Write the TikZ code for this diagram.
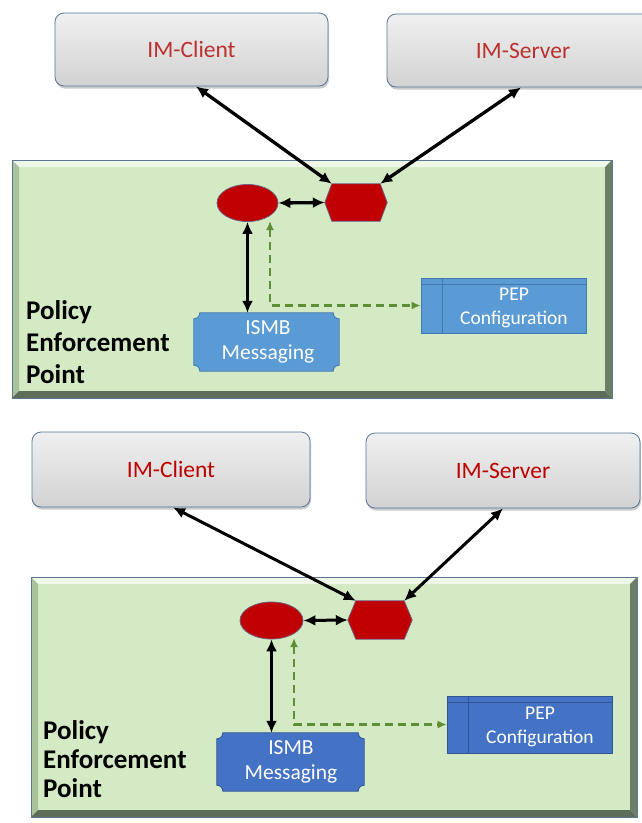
\documentclass[tikz,border=0pt]{standalone}
\usepackage{fontspec}
\setmainfont{Carlito}
\usetikzlibrary{arrows.meta,shadows,calc,shapes.geometric}
\definecolor{imred1}{HTML}{BC3030}
\definecolor{imred2}{HTML}{C00000}
\definecolor{imborder}{HTML}{56769A}
\definecolor{imtop}{HTML}{F0F0F0}
\definecolor{imbot}{HTML}{D2D2D2}
\definecolor{pnlin}{HTML}{D3EAC4}
\definecolor{bevtop}{HTML}{EEF7E8}
\definecolor{bevleft}{HTML}{A9C299}
\definecolor{bevright}{HTML}{6D7E66}
\definecolor{bevbot}{HTML}{5D6D57}
\definecolor{pnlline}{HTML}{5A7890}
\definecolor{pepred}{HTML}{C00000}
\definecolor{redline}{HTML}{6F5F80}
\definecolor{blueA}{HTML}{5B9BD5}
\definecolor{blueAd}{HTML}{4479B0}
\definecolor{blueB}{HTML}{4472C4}
\definecolor{blueBd}{HTML}{2F5597}
\definecolor{dashgreen}{HTML}{5E8E36}
\newcommand{\bevpanel}[4]{%
  \fill[pnlin] (#1,#2) rectangle (#3,#4);
  \fill[bevtop] (#1,#2) -- (#3,#2) -- (#3-7,#2+7) -- (#1+7,#2+7) -- cycle;
  \fill[bevleft] (#1,#2) -- (#1+7,#2+7) -- (#1+7,#4-7) -- (#1,#4) -- cycle;
  \fill[bevright] (#3,#2) -- (#3,#4) -- (#3-7,#4-7) -- (#3-7,#2+7) -- cycle;
  \fill[bevbot] (#1,#4) -- (#3,#4) -- (#3-7,#4-7) -- (#1+7,#4-7) -- cycle;
  \draw[pnlline, line width=0.7pt] (#1,#2) rectangle (#3,#4);
}
\begin{document}
\begin{tikzpicture}[x=1pt,y=-1pt,
  imbox/.style={rectangle, rounded corners=9pt, draw=imborder, line width=0.8pt,
    top color=imtop, bottom color=imbot, minimum width=273pt, minimum height=73pt,
    inner sep=0pt, font=\fontsize{23.5}{27}\selectfont,
    drop shadow={shadow xshift=1pt, shadow yshift=-2.5pt, fill=black!40}},
  redell/.style={ellipse, minimum width=61pt, minimum height=37pt, inner sep=0pt,
    fill=pepred, draw=redline, line width=0.8pt},
  hexnode/.style={rectangle, minimum width=62pt, minimum height=37pt, inner sep=0pt},
  hexsty/.style={fill=pepred, draw=redline, line width=0.8pt},
  plqnode/.style={rectangle, inner sep=0pt},
  plqtext/.style={text=white, align=center, font=\fontsize{21.5}{25}\selectfont, inner sep=0pt},
  peptext/.style={text=white, align=center, font=\fontsize{19.5}{24}\selectfont, inner sep=0pt},
  pepbox/.style 2 args={rectangle, minimum width=165pt, minimum height=55pt, inner sep=0pt,
    fill=#1, draw=#2, line width=0.8pt,
    path picture={
      \draw[#2, line width=0.8pt] ([xshift=21pt]path picture bounding box.north west) -- ([xshift=21pt]path picture bounding box.south west);
      \draw[#2, line width=0.8pt] ([yshift=-6pt]path picture bounding box.north west) -- ([yshift=-6pt]path picture bounding box.north east);
    }},
  policy/.style={align=left, inner sep=0pt, font=\bfseries\fontsize{27}{32}\selectfont},
  blkarrow/.style={line width=3.3pt, black, {Latex[length=12pt,width=11pt]}-{Latex[length=12pt,width=11pt]}},
  grnarrow/.style={line width=2.4pt, dashgreen, dash pattern=on 8pt off 5pt,
    {Latex[length=9pt,width=8pt]}-{Latex[length=9pt,width=8pt]}}
]
\useasboundingbox (0,0) rectangle (642,823);
\fill[white] (0,0) rectangle (642,823);
\clip (0,0) rectangle (642,823);

% ================= TOP =================
\bevpanel{12}{160}{612}{398}
\node[imbox, text=imred1] (imc1) at (191.5,49.5) {IM-Client};
\node[imbox, text=imred1, minimum width=272pt] (ims1) at (523,50.5) {IM-Server};

\node[redell] (e1) at (247.5,203) {};
\node[hexnode] (h1) at (356,202.5) {};
\coordinate (h1tl) at ([xshift=7pt]h1.north west);
\coordinate (h1tr) at ([xshift=-7pt]h1.north east);
\draw[hexsty] (h1tl) -- (h1tr) -- (h1.east) -- ([xshift=-7pt]h1.south east) -- ([xshift=7pt]h1.south west) -- (h1.west) -- cycle;

\node[plqnode, minimum width=145pt, minimum height=58pt] (s1) at (266.5,342) {};
\draw[fill=blueA, draw=blueAd, line width=0.8pt]
  ([xshift=6pt]s1.north west) -- ([xshift=-6pt]s1.north east)
  arc[start angle=180, end angle=270, radius=6pt] -- ([yshift=6pt]s1.south east)
  arc[start angle=90, end angle=180, radius=6pt] -- ([xshift=6pt]s1.south west)
  arc[start angle=0, end angle=90, radius=6pt] -- ([yshift=-6pt]s1.north west)
  arc[start angle=270, end angle=360, radius=6pt] -- cycle;
\node[plqtext] (s1t) at (268,342) {ISMB\\Messaging};

\node[pepbox={blueA}{blueAd}] (p1) at (503.5,305.5) {};
\node[peptext] (p1t) at (514,308) {PEP\\Configuration};

\node[policy, anchor=west] (pol1) at (26,342) {Policy\\Enforcement\\Point};

\draw[blkarrow] ([xshift=4.5pt]imc1.south) -- (h1tl);
\draw[blkarrow] ([xshift=-2pt]ims1.south) -- (h1tr);
\draw[blkarrow] (e1.east) -- (h1.west);
\draw[blkarrow] (e1.south) -- (e1.south |- s1.north);
\coordinate (d1) at (270,221);
\draw[grnarrow] (d1) |- (p1.west);

% ================= BOTTOM =================
\bevpanel{31}{577}{637}{817}
\node[imbox, text=imred2, minimum width=278pt, minimum height=75pt] (imc2) at (171,469.5) {IM-Client};
\node[imbox, text=imred2, minimum width=274pt, minimum height=75pt] (ims2) at (503,470.5) {IM-Server};

\node[redell, minimum width=63pt] (e2) at (271.5,620.5) {};
\node[hexnode, minimum width=64pt, minimum height=38pt] (h2) at (380,620) {};
\coordinate (h2tl) at ([xshift=8pt]h2.north west);
\coordinate (h2tr) at ([xshift=-8pt]h2.north east);
\draw[hexsty] (h2tl) -- (h2tr) -- (h2.east) -- ([xshift=-8pt]h2.south east) -- ([xshift=8pt]h2.south west) -- (h2.west) -- cycle;

\node[plqnode, minimum width=147pt, minimum height=58pt] (s2) at (290.5,762) {};
\draw[fill=blueB, draw=blueBd, line width=0.8pt]
  ([xshift=6pt]s2.north west) -- ([xshift=-6pt]s2.north east)
  arc[start angle=180, end angle=270, radius=6pt] -- ([yshift=6pt]s2.south east)
  arc[start angle=90, end angle=180, radius=6pt] -- ([xshift=6pt]s2.south west)
  arc[start angle=0, end angle=90, radius=6pt] -- ([yshift=-6pt]s2.north west)
  arc[start angle=270, end angle=360, radius=6pt] -- cycle;
\node[plqtext] (s2t) at (291,762) {ISMB\\Messaging};

\node[pepbox={blueB}{blueBd}, minimum height=57pt] (p2) at (529.5,724.5) {};
\node[peptext] (p2t) at (540,727) {PEP\\Configuration};

\node[policy, anchor=west, font=\bfseries\fontsize{27}{29}\selectfont] (pol2) at (43,759) {Policy\\Enforcement\\Point};

\draw[blkarrow, line width=3pt] ([xshift=2pt]imc2.south) -- (h2tl);
\draw[blkarrow, line width=3pt] (ims2.south) -- (h2tr);
\draw[blkarrow, line width=3pt] (e2.east) -- (h2.west);
\draw[blkarrow, line width=3pt] (e2.south) -- (e2.south |- s2.north);
\coordinate (d2) at (294,638);
\draw[grnarrow, line width=2.2pt] (d2) |- (p2.west);
\end{tikzpicture}
\end{document}
